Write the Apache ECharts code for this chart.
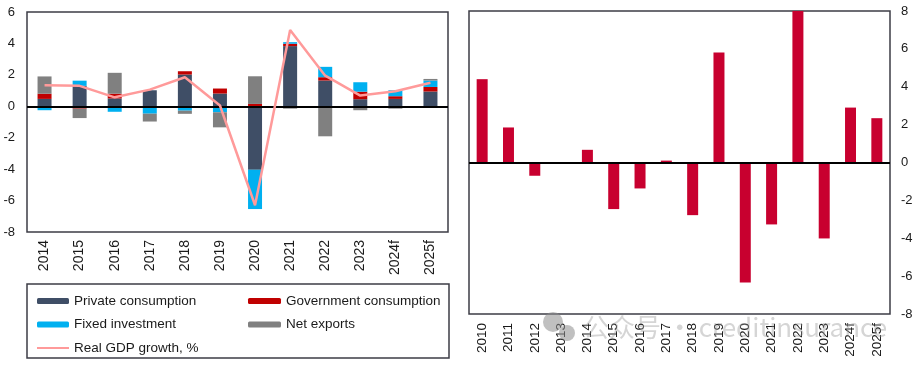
<!DOCTYPE html>
<html>
<head>
<meta charset="utf-8">
<script src="https://cdn.jsdelivr.net/npm/echarts@6/dist/echarts.min.js"></script>
<style>
html,body{margin:0;padding:0;background:#fff;}
#c{width:916px;height:367px;}
</style>
</head>
<body>
<div id="c"></div>
<script>
// Left chart: contributions to real GDP growth
const catsL = ['2014','2015','2016','2017','2018','2019','2020','2021','2022','2023','2024f','2025f'];
const privCons = [0.47, 1.3, 0.5, 1.02, 2.02, 0.81, -4.04, 3.83, 1.64, 0.45, 0.47, 0.94];
const govCons  = [0.33, -0.15, 0.3, 0, 0.21, 0.32, 0.15, 0.15, 0.21, 0.48, 0.17, 0.29];
const fixedInv = [-0.25, 0.33, -0.35, -0.47, -0.28, -0.38, -2.5, 0.1, 0.66, 0.6, 0.38, 0.41];
const netExp   = [1.1, -0.6, 1.33, -0.5, -0.2, -0.96, 1.76, -0.15, -1.91, -0.25, -0.15, 0.1];
const gdpGrowth = [1.34, 1.3, 0.57, 1.06, 1.85, 0.05, -6.3, 4.85, 1.95, 0.68, 0.96, 1.5];
const yTicksL = {min: -8, max: 6, interval: 2};

// Right chart
const catsR = ['2010','2011','2012','2013','2014','2015','2016','2017','2018','2019','2020','2021','2022','2023','2024f','2025f'];
const valsR = [4.4, 1.85, -0.7, 0, 0.67, -2.46, -1.37, 0.1, -2.78, 5.81, -6.34, -3.27, 8.0, -4.01, 2.9, 2.34];
const yTicksR = {min: -8, max: 8, interval: 2};

const FONT = '"Liberation Sans", Arial, sans-serif';
const TXT = '#1a1a1a';
const FRAME = '#3c3c46';

const chart = echarts.init(document.getElementById('c'), null, {renderer: 'canvas'});

const barBase = {type: 'bar', stack: 'L', xAxisIndex: 0, yAxisIndex: 0, barWidth: 14};

const option = {
  animation: false,
  backgroundColor: '#fff',
  textStyle: {fontFamily: FONT, color: TXT},
  grid: [
    {left: 27, right: 468, top: 12, bottom: 135, show: true, borderColor: FRAME, borderWidth: 1.5, containLabel: false},
    {left: 469, right: 26, top: 11, bottom: 53, show: true, borderColor: FRAME, borderWidth: 1.5, containLabel: false}
  ],
  xAxis: [
    {type: 'category', gridIndex: 0, data: catsL,
     axisLine: {show: false}, axisTick: {show: false},
     axisLabel: {rotate: 90, fontSize: 14, color: TXT, fontFamily: FONT, margin: 8, interval: 0}},
    {type: 'category', gridIndex: 1, data: catsR,
     axisLine: {show: false}, axisTick: {show: false},
     axisLabel: {rotate: 90, fontSize: 13.5, color: TXT, fontFamily: FONT, margin: 9, interval: 0}}
  ],
  yAxis: [
    {type: 'value', gridIndex: 0, min: yTicksL.min, max: yTicksL.max, interval: yTicksL.interval,
     axisLine: {show: false}, axisTick: {show: false}, splitLine: {show: false},
     axisLabel: {fontSize: 13, color: TXT, fontFamily: FONT, margin: 12}},
    {type: 'value', gridIndex: 1, position: 'right', min: yTicksR.min, max: yTicksR.max, interval: yTicksR.interval,
     axisLine: {show: false}, axisTick: {show: false}, splitLine: {show: false},
     axisLabel: {fontSize: 13, color: TXT, fontFamily: FONT, margin: 11}}
  ],
  legend: [
    {orient: 'vertical', left: 32, top: 288, itemWidth: 32, itemHeight: 6, itemGap: 7.5,
     data: ['Private consumption', 'Fixed investment',
            {name: 'Real GDP growth, %', icon: 'path://M0,0L32,0L32,2L0,2Z', itemStyle: {color: '#ff9a9a'}}],
     textStyle: {fontSize: 13.5, color: TXT, fontFamily: FONT, lineHeight: 16}, selectedMode: false},
    {orient: 'vertical', left: 243, top: 288, itemWidth: 33, itemHeight: 6, itemGap: 7.5,
     data: ['Government consumption', 'Net exports'],
     textStyle: {fontSize: 13.5, color: TXT, fontFamily: FONT, lineHeight: 16}, selectedMode: false}
  ],
  series: [
    Object.assign({}, barBase, {name: 'Private consumption', data: privCons, itemStyle: {color: '#3f4e66'}}),
    Object.assign({}, barBase, {name: 'Government consumption', data: govCons, itemStyle: {color: '#c00000'}}),
    Object.assign({}, barBase, {name: 'Fixed investment', data: fixedInv, itemStyle: {color: '#00b0f0'}}),
    Object.assign({}, barBase, {name: 'Net exports', data: netExp, itemStyle: {color: '#808080'},
      markLine: {silent: true, symbol: 'none', label: {show: false},
        lineStyle: {color: '#000', width: 2, type: 'solid'}, data: [{yAxis: 0}]}}),
    {type: 'line', name: 'Real GDP growth, %', xAxisIndex: 0, yAxisIndex: 0, data: gdpGrowth,
     symbol: 'none', lineStyle: {color: '#ff9a9a', width: 2.5}, itemStyle: {color: '#ff9a9a'}, z: 5},
    {type: 'bar', name: 'Right', xAxisIndex: 1, yAxisIndex: 1, data: valsR, barWidth: 11,
     itemStyle: {color: '#c8002f'},
     markLine: {silent: true, symbol: 'none', label: {show: false},
       lineStyle: {color: '#000', width: 2, type: 'solid'}, data: [{yAxis: 0}]}}
  ],
  graphic: [
    {type: 'rect', shape: {x: 27, y: 284, width: 422, height: 74},
     style: {fill: 'none', stroke: FRAME, lineWidth: 1.5}, z: 10},
    {type: 'circle', shape: {cx: 553, cy: 322, r: 10}, style: {fill: 'rgba(140,140,140,0.55)'}, z: 20},
    {type: 'circle', shape: {cx: 567, cy: 333, r: 8}, style: {fill: 'rgba(140,140,140,0.55)'}, z: 20},
    {type: 'text', left: 583, top: 314, z: 20,
     style: {text: '公众号 · creditinsurance', fontSize: 26, fontFamily: '"Noto Sans CJK SC", "Noto Sans", sans-serif',
       fill: 'rgba(150,150,150,0.4)'}}
  ]
};
chart.setOption(option);
</script>
</body>
</html>
